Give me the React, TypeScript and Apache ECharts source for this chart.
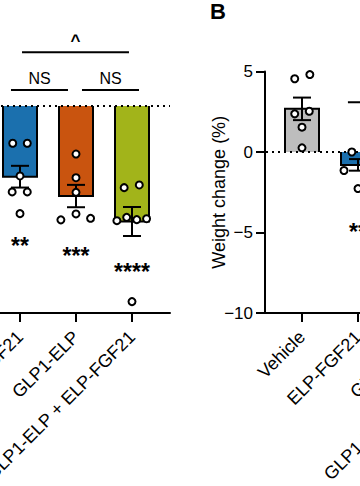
import React, { useEffect, useRef } from 'react';
import * as echarts from 'echarts';

// ---------- data ----------
const catsA = ['ELP-FGF21', 'GLP1-ELP', 'GLP1-ELP + ELP-FGF21'];
const catsB = ['Vehicle', 'ELP-FGF21', 'GLP1-ELP', 'GLP1-ELP + ELP-FGF21'];
const colorsA = ['#1b70ae', '#c9540f', '#a2b41a'];
const colorsB = ['#bdbdbd', '#1b70ae', '#c9540f', '#a2b41a'];

const meanA = [-6.83, -8.7, -11.16];
const semA = [1.05, 1.08, 1.4];
const pointsA = [
  [-3.6, -3.6, -6.76, -8.3, -8.3, -10.4],
  [-4.64, -6.93, -8.34, -10.43, -11.0, -10.85],
  [-7.89, -7.63, -11.08, -10.76, -10.98, -10.89, -18.9],
];
const jitterA = [
  [-0.13, 0.13, 0, -0.14, 0.13, 0],
  [0, 0, 0, 0, -0.27, 0.26],
  [-0.14, 0.13, -0.27, -0.095, 0.085, 0.26, 0],
];
const starsA = ['**', '***', '****'];
const starsYA = [-13.5, -14.5, -16.0];

const meanB = [2.68, -0.8];
const semB = [0.7, 0.36];
const pointsB = [
  [4.55, 4.81, 2.37, 2.53, 1.54, 0.26],
  [0, -1.15, -2.27],
];
const jitterB = [
  [-0.13, 0.14, -0.13, 0.13, 0, 0],
  [-0.11, -0.25, 0],
];
const starsB = ['', '**'];
const starsYB = [0, -4.94];

const bracketsA = [
  { from: 1.036, to: 2.946, y: 5.2, text: '^' },
  { from: 0.839, to: 1.857, y: 1.55, text: 'NS' },
  { from: 2.107, to: 3.125, y: 1.55, text: 'NS' },
];
const bracketsB = [{ from: 1.82, to: 4.0, y: 3.09, text: '' }];

const yTicksB = [-10, -5, 0, 5];

// axis ranges (category positions 1..n)
const xRangeA = [1 - 20 / 56, 3 + 38 / 56];
const xRangeB = [1 - 37 / 56, 4 + 38 / 56];

// ---------- helpers ----------
const FONT = '"Liberation Sans", Arial, Helvetica, sans-serif';

function fmtMinus(v: number) {
  return v < 0 ? '\u2212' + Math.abs(v) : String(v);
}

function panelSeries(
  idx: number,
  xRange: number[],
  means: number[],
  sems: number[],
  points: number[][],
  jitter: number[][],
  colors: string[],
  stars: string[],
  starsY: number[],
  brackets: { from: number; to: number; y: number; text: string }[]
) {
  const bars = means.map((m, i) => [i + 1, m]);
  const errs = means.map((m, i) => [i + 1, m, sems[i]]);
  const pts: number[][] = [];
  points.forEach((g, i) => g.forEach((v, j) => pts.push([i + 1 + jitter[i][j], v])));
  const starData = stars.map((s, i) => [i + 1, starsY[i]]);
  const brData = brackets.map((b) => [b.from, b.to, b.y]);
  return [
    {
      type: 'custom',
      xAxisIndex: idx,
      yAxisIndex: idx,
      z: 2,
      data: bars,
      encode: { x: 0, y: 1 },
      renderItem: (params: any, api: any) => {
        const x = api.value(0);
        const m = api.value(1);
        const p0 = api.coord([x, 0]);
        const p1 = api.coord([x, m]);
        const w = 34;
        const xl = p0[0] - w / 2;
        const xr = p0[0] + w / 2;
        return {
          type: 'group',
          children: [
            {
              type: 'rect',
              shape: { x: xl, y: Math.min(p0[1], p1[1]), width: w, height: Math.abs(p1[1] - p0[1]) },
              style: { fill: colors[params.dataIndex] },
            },
            {
              type: 'polyline',
              shape: { points: [[xl, p0[1]], [xl, p1[1]], [xr, p1[1]], [xr, p0[1]]] },
              style: { stroke: '#000', lineWidth: 2, fill: 'none' },
            },
          ],
        };
      },
    },
    {
      // dotted zero line
      type: 'custom',
      xAxisIndex: idx,
      yAxisIndex: idx,
      z: 3,
      data: [[xRange[0], xRange[1], 0]],
      encode: { x: [0, 1], y: 2 },
      renderItem: (params: any, api: any) => {
        const a = api.coord([api.value(0), api.value(2)]);
        const b = api.coord([api.value(1), api.value(2)]);
        return {
          type: 'line',
          shape: { x1: a[0] + 1, y1: a[1], x2: b[0], y2: b[1] },
          style: { stroke: '#000', lineWidth: 2, lineDash: [2, 4] },
        };
      },
    },
    {
      type: 'custom',
      xAxisIndex: idx,
      yAxisIndex: idx,
      z: 3,
      data: errs,
      encode: { x: 0, y: 1 },
      renderItem: (params: any, api: any) => {
        const x = api.value(0);
        const m = api.value(1);
        const s = api.value(2);
        const t = api.coord([x, m + s]);
        const b = api.coord([x, m - s]);
        const hw = 9;
        const st = { stroke: '#000', lineWidth: 2 };
        return {
          type: 'group',
          children: [
            { type: 'line', shape: { x1: t[0], y1: t[1], x2: b[0], y2: b[1] }, style: st },
            { type: 'line', shape: { x1: t[0] - hw, y1: t[1], x2: t[0] + hw, y2: t[1] }, style: st },
            { type: 'line', shape: { x1: b[0] - hw, y1: b[1], x2: b[0] + hw, y2: b[1] }, style: st },
          ],
        };
      },
    },
    {
      type: 'scatter',
      xAxisIndex: idx,
      yAxisIndex: idx,
      z: 4,
      symbol: 'circle',
      symbolSize: 7,
      itemStyle: { color: '#fff', borderColor: '#000', borderWidth: 2, opacity: 1 },
      data: pts,
    },
    {
      type: 'custom',
      xAxisIndex: idx,
      yAxisIndex: idx,
      z: 5,
      data: starData,
      encode: { x: 0, y: 1 },
      renderItem: (params: any, api: any) => {
        const p = api.coord([api.value(0), api.value(1)]);
        return {
          type: 'text',
          x: p[0],
          y: p[1],
          style: {
            text: stars[params.dataIndex],
            font: 'bold 23px ' + FONT,
            fill: '#000',
            align: 'center',
            verticalAlign: 'middle',
          },
        };
      },
    },
    {
      type: 'custom',
      xAxisIndex: idx,
      yAxisIndex: idx,
      z: 5,
      data: brData,
      encode: { x: [0, 1], y: 2 },
      renderItem: (params: any, api: any) => {
        const a = api.coord([api.value(0), api.value(2)]);
        const b = api.coord([api.value(1), api.value(2)]);
        const txt = brackets[params.dataIndex].text;
        const children: any[] = [
          { type: 'line', shape: { x1: a[0], y1: a[1], x2: b[0], y2: b[1] }, style: { stroke: '#000', lineWidth: 2 } },
        ];
        if (txt) {
          children.push({
            type: 'text',
            x: (a[0] + b[0]) / 2,
            y: a[1] - 3,
            style: {
              text: txt,
              font: (txt === '^' ? 'bold 17px ' : '16px ') + FONT,
              fill: '#000',
              align: 'center',
              verticalAlign: 'bottom',
            },
          });
        }
        return { type: 'group', children };
      },
    },
  ];
}

function xAxis(idx: number, cats: string[], range: number[]) {
  const vals = cats.map((_, i) => i + 1);
  return {
    type: 'value',
    gridIndex: idx,
    min: range[0],
    max: range[1],
    splitLine: { show: false },
    axisLine: { show: true, onZero: false, lineStyle: { color: '#000', width: 2 } },
    axisTick: { show: true, length: 9, customValues: vals, lineStyle: { color: '#000', width: 2 } },
    axisLabel: {
      show: true,
      customValues: vals,
      rotate: 45,
      margin: 21,
      fontSize: 18,
      color: '#000',
      fontFamily: FONT,
      formatter: (v: number) => cats[Math.round(v) - 1] || '',
    },
  };
}

export default function App() {
  const ref = useRef<HTMLDivElement>(null);
  useEffect(() => {
    if (!ref.current) return;
    const chart = echarts.init(ref.current, null, { renderer: 'svg' });
    const option: any = {
      animation: false,
      backgroundColor: '#fff',
      textStyle: { fontFamily: FONT },
      grid: [
        { left: 0, top: 2.5, width: 170, height: 310.5, containLabel: false, outerBoundsMode: 'none' },
        { left: 265, top: 71.5, width: 243, height: 241.5, containLabel: false, outerBoundsMode: 'none' },
      ],
      xAxis: [xAxis(0, catsA, xRangeA), xAxis(1, catsB, xRangeB)],
      yAxis: [
        { type: 'value', gridIndex: 0, min: -20, max: 10, show: false, splitLine: { show: false } },
        {
          type: 'value',
          gridIndex: 1,
          min: yTicksB[0],
          max: yTicksB[yTicksB.length - 1],
          interval: 5,
          splitLine: { show: false },
          axisLine: { show: true, onZero: false, lineStyle: { color: '#000', width: 2 } },
          axisTick: { show: true, length: 9, lineStyle: { color: '#000', width: 2 } },
          axisLabel: { fontSize: 17, color: '#000', margin: 12, fontFamily: FONT, formatter: fmtMinus },
          name: 'Weight change (%)',
          nameLocation: 'middle',
          nameGap: 37,
          nameMoveOverlap: false,
          nameTextStyle: { fontSize: 18, color: '#000', fontFamily: FONT },
        },
      ],
      graphic: [
        { type: 'text', left: 210, top: 0, style: { text: 'B', font: 'bold 22px ' + FONT, fill: '#000' } },
      ],
      series: [
        ...panelSeries(0, xRangeA, meanA, semA, pointsA, jitterA, colorsA, starsA, starsYA, bracketsA),
        ...panelSeries(1, xRangeB, meanB, semB, pointsB, jitterB, colorsB, starsB, starsYB, bracketsB),
      ],
    };
    chart.setOption(option);
    return () => chart.dispose();
  }, []);
  return (
    <div
      ref={ref}
      style={{ position: 'fixed', left: 0, top: 0, width: 360, height: 486, background: '#fff' }}
    />
  );
}
